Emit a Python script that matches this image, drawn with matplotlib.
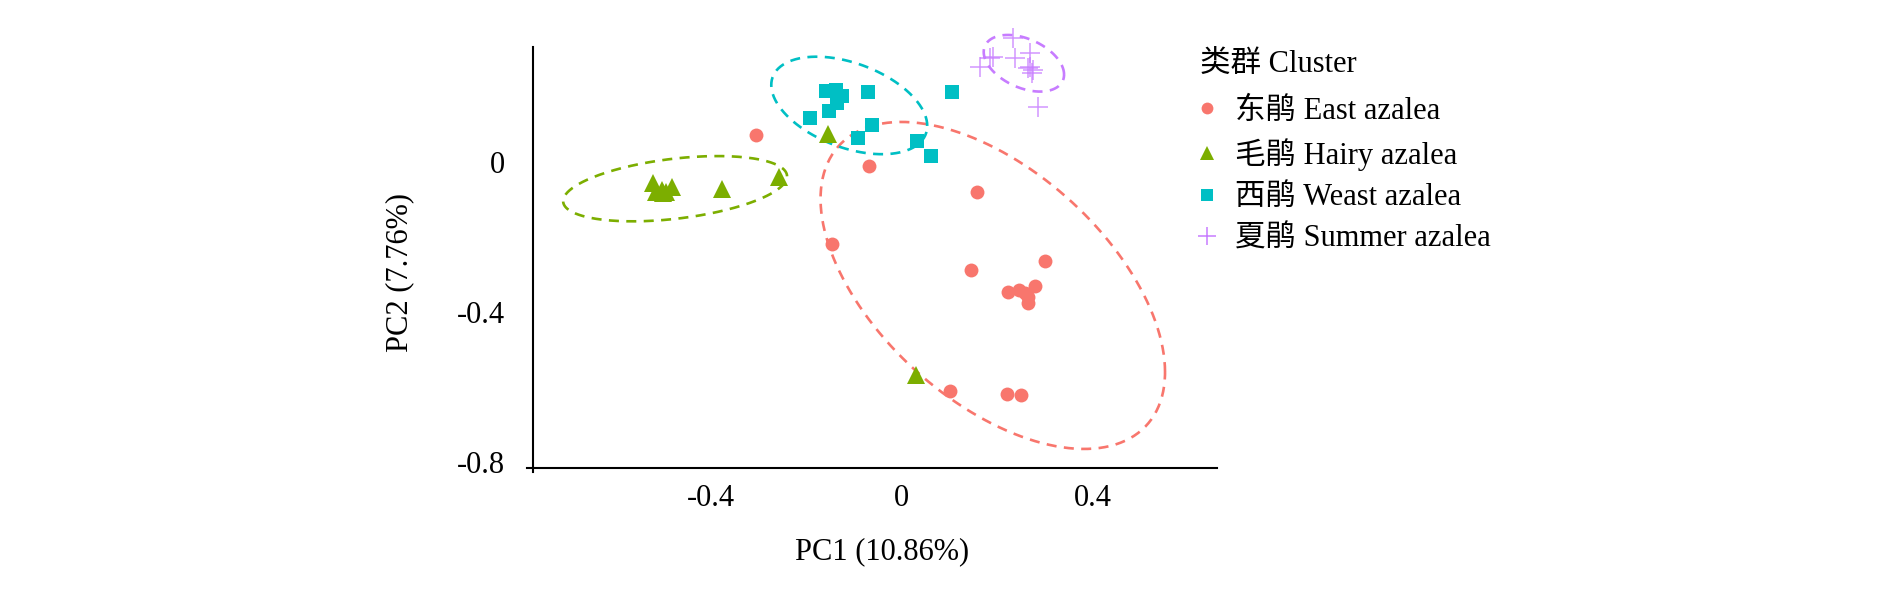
import numpy as np
import matplotlib
matplotlib.use('Agg')
import matplotlib.pyplot as plt
from matplotlib.lines import Line2D

# PCA scores
east_x = [-0.304, -0.069, 0.158, -0.147, 0.299, 0.144, 0.279, 0.222, 0.245, 0.257, 0.264, 0.263, 0.100, 0.219, 0.249]
east_y = [0.071, -0.011, -0.080, -0.219, -0.265, -0.289, -0.331, -0.347, -0.342, -0.351, -0.360, -0.376, -0.611, -0.619, -0.621]

hairy_x = [-0.521, -0.481, -0.502, -0.513, -0.492, -0.499, -0.377, -0.256, -0.154, 0.029]
hairy_y = [-0.056, -0.067, -0.075, -0.080, -0.080, -0.084, -0.074, -0.040, 0.074, -0.569]

west_x = [-0.159, -0.138, -0.126, -0.135, -0.152, -0.070, -0.192, -0.063, -0.091, 0.104, 0.032, 0.061]
west_y = [0.189, 0.191, 0.175, 0.156, 0.136, 0.187, 0.116, 0.098, 0.062, 0.187, 0.056, 0.015]

summer_x = [0.233, 0.191, 0.184, 0.163, 0.236, 0.268, 0.268, 0.275, 0.271, 0.264, 0.285]
summer_y = [0.331, 0.280, 0.276, 0.253, 0.276, 0.289, 0.253, 0.245, 0.236, 0.249, 0.147]

# ellipse per group: centre, half ranges in x / y, correlation
ell_cx = [0.19, -0.474, -0.11, 0.255]
ell_cy = [-0.33, -0.072, 0.15, 0.2625]
ell_ax = [0.36, 0.234, 0.163, 0.084]
ell_ay = [0.436, 0.087, 0.13, 0.0755]
ell_r = [-0.53, 0.38, -0.42, -0.40]

labels = ['东鹃 East azalea', '毛鹃 Hairy azalea', '西鹃 Weast azalea', '夏鹃 Summer azalea']
colors = ['#F8766D', '#7CAE00', '#00BFC4', '#C77CFF']
markers = ['o', '^', 's', '+']
msizes = [10, 12.5, 10.5, 14.5]

x_ticks = [-0.4, 0, 0.4]
x_ticklabels = ['-0.4', '0', '0.4']
y_ticks = [-0.8, -0.4, 0]
y_ticklabels = ['-0.8', '-0.4', '0']

plt.rcParams['font.family'] = ['Liberation Serif', 'Noto Sans CJK SC']
plt.rcParams['font.size'] = 22

fig = plt.figure(figsize=(18.9, 5.91), dpi=100)
ax = fig.add_axes([0.28201, 0.20863, 0.36175, 0.74619])

groups = [(east_x, east_y), (hairy_x, hairy_y), (west_x, west_y), (summer_x, summer_y)]
t = np.linspace(0, 2 * np.pi, 300)
for i, (gx, gy) in enumerate(groups):
    r = ell_r[i]
    ex = ell_cx[i] + ell_ax[i] * np.cos(t)
    ey = ell_cy[i] + ell_ay[i] * (r * np.cos(t) + np.sqrt(1 - r ** 2) * np.sin(t))
    ax.plot(ex, ey, color=colors[i], lw=1.9, linestyle=(0, (3.8, 2.8)), clip_on=False)

for i, (gx, gy) in enumerate(groups):
    if markers[i] == '+':
        ax.plot(gx, gy, linestyle='none', marker='+', markersize=msizes[i],
                markeredgewidth=1.1, color=colors[i], alpha=0.8, clip_on=False)
    else:
        ax.plot(gx, gy, linestyle='none', marker=markers[i], markersize=msizes[i],
                markeredgewidth=0, color=colors[i], clip_on=False)

ax.set_xlim(-0.771, 0.658)
ax.set_ylim(-0.816, 0.36)
ax.spines['top'].set_visible(False)
ax.spines['right'].set_visible(False)
ax.spines['left'].set_bounds(-0.816, 0.306)
for s in ['left', 'bottom']:
    ax.spines[s].set_linewidth(1.5)
ax.set_xticks(x_ticks)
ax.set_xticklabels(x_ticklabels)
ax.set_yticks(y_ticks)
ax.set_yticklabels(y_ticklabels)
ax.tick_params(axis='x', length=0, pad=12)
ax.tick_params(axis='y', length=0, pad=20)

# little corner ticks
ax.plot([0, 0], [0, -0.01], transform=ax.transAxes, color='black', lw=1.5, clip_on=False)
ax.plot([0, -0.009], [0, 0], transform=ax.transAxes, color='black', lw=1.5, clip_on=False)

fig.text(882 / 1890, 1 - 551.7 / 591, 'PC1 (10.86%)', ha='center', va='center')
fig.text(400 / 1890, 1 - 273 / 591, 'PC2 (7.76%)', ha='center', va='center', rotation=90)

# legend title placed on its own, entries below
fig.text(1200 / 1890, 1 - 64 / 591, '类群 Cluster', ha='left', va='center')
handles = [Line2D([], [], linestyle='none', marker=markers[i], color=colors[i],
                  markersize=msizes[i] * 0.85, markeredgewidth=1.1 if markers[i] == '+' else 0)
           for i in range(4)]
fig.legend(handles, labels, loc='upper left',
           bbox_to_anchor=(1195 / 1890, 1 - 97 / 591), frameon=False, borderpad=0,
           borderaxespad=0, handlelength=0.8, handletextpad=0.5, labelspacing=0.4,
           fontsize=22)

fig.savefig('out.png', dpi=100)
